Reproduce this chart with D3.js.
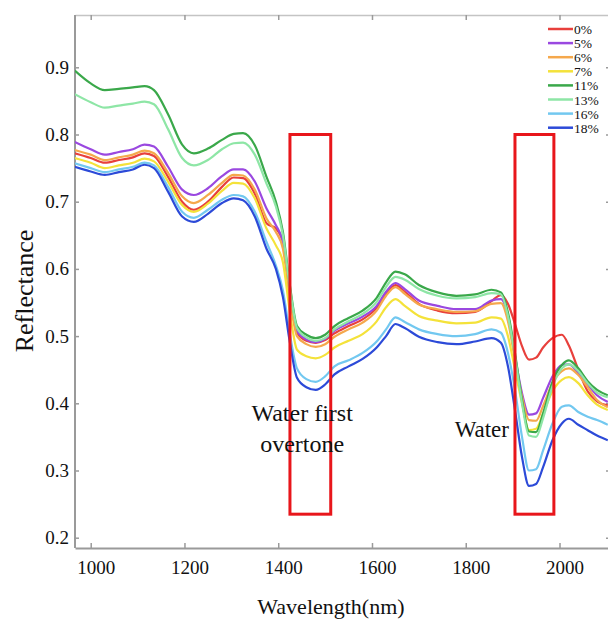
<!DOCTYPE html>
<html lang="en">
<head>
<meta charset="UTF-8">
<title>Reflectance spectra</title>
<style>
  * { margin: 0; padding: 0; }
  body { background: #fff; }
  #chart { width: 608px; height: 622px; overflow: hidden; }
  svg text { font-family: 'Liberation Serif', 'Times New Roman', serif !important; fill: #111; }
</style>
</head>
<body>
<div id="chart"></div>
<script src="https://cdn.jsdelivr.net/npm/d3@7/dist/d3.min.js"></script>
<script>
  // wavelength grid (nm)
  const wavelengths = [966, 1000, 1030, 1060, 1090, 1115, 1135, 1165, 1195, 1220, 1250, 1280, 1305, 1325, 1350, 1375, 1395, 1410, 1425, 1440,
    1460, 1480, 1500, 1520, 1550, 1580, 1610, 1630, 1650, 1670, 1700, 1740, 1780, 1820, 1855, 1875, 1890, 1905, 1920, 1935,
    1950, 1965, 1985, 2005, 2020, 2040, 2060, 2080, 2103]

  // reflectance per moisture level
  const m0 = [0.772, 0.765, 0.758, 0.762, 0.766, 0.772, 0.768, 0.737, 0.700, 0.688, 0.700, 0.722, 0.736, 0.735, 0.712, 0.668, 0.660, 0.640, 0.560, 0.505,
    0.493, 0.490, 0.494, 0.504, 0.515, 0.525, 0.542, 0.563, 0.576, 0.566, 0.548, 0.538, 0.534, 0.536, 0.552, 0.561, 0.548, 0.518, 0.485, 0.465,
    0.468, 0.483, 0.497, 0.502, 0.486, 0.450, 0.418, 0.403, 0.397]
  const m5 = [0.789, 0.778, 0.770, 0.774, 0.778, 0.785, 0.782, 0.752, 0.718, 0.710, 0.720, 0.738, 0.748, 0.748, 0.730, 0.690, 0.665, 0.640, 0.565, 0.508,
    0.495, 0.491, 0.496, 0.508, 0.519, 0.529, 0.545, 0.566, 0.579, 0.570, 0.553, 0.545, 0.540, 0.540, 0.553, 0.555, 0.530, 0.470, 0.415, 0.383,
    0.385, 0.408, 0.440, 0.457, 0.458, 0.445, 0.428, 0.412, 0.402]
  const m6 = [0.777, 0.770, 0.762, 0.766, 0.770, 0.776, 0.772, 0.743, 0.708, 0.698, 0.710, 0.728, 0.740, 0.739, 0.718, 0.675, 0.655, 0.630, 0.555, 0.500,
    0.488, 0.484, 0.488, 0.499, 0.510, 0.520, 0.538, 0.560, 0.573, 0.563, 0.547, 0.540, 0.536, 0.537, 0.548, 0.549, 0.522, 0.465, 0.410, 0.375,
    0.374, 0.396, 0.430, 0.448, 0.452, 0.442, 0.424, 0.405, 0.394]
  const m7 = [0.765, 0.758, 0.750, 0.754, 0.758, 0.764, 0.760, 0.730, 0.695, 0.685, 0.697, 0.716, 0.728, 0.727, 0.705, 0.660, 0.635, 0.610, 0.535, 0.480,
    0.470, 0.467, 0.472, 0.483, 0.493, 0.503, 0.522, 0.543, 0.555, 0.545, 0.530, 0.523, 0.519, 0.520, 0.528, 0.526, 0.500, 0.450, 0.400, 0.360,
    0.362, 0.385, 0.418, 0.435, 0.439, 0.430, 0.412, 0.398, 0.390]
  const m11 = [0.895, 0.876, 0.866, 0.868, 0.870, 0.872, 0.866, 0.830, 0.785, 0.772, 0.779, 0.792, 0.801, 0.802, 0.784, 0.737, 0.700, 0.655, 0.575, 0.515,
    0.502, 0.497, 0.502, 0.515, 0.527, 0.538, 0.557, 0.580, 0.596, 0.592, 0.576, 0.565, 0.560, 0.562, 0.569, 0.565, 0.535, 0.475, 0.405, 0.358,
    0.357, 0.385, 0.432, 0.457, 0.464, 0.452, 0.433, 0.420, 0.412]
  const m13 = [0.860, 0.848, 0.840, 0.843, 0.846, 0.849, 0.845, 0.808, 0.765, 0.754, 0.762, 0.778, 0.787, 0.788, 0.770, 0.727, 0.693, 0.650, 0.572, 0.512,
    0.498, 0.493, 0.497, 0.510, 0.522, 0.533, 0.551, 0.573, 0.588, 0.584, 0.570, 0.560, 0.556, 0.558, 0.564, 0.562, 0.530, 0.470, 0.400, 0.352,
    0.350, 0.378, 0.425, 0.452, 0.458, 0.448, 0.430, 0.416, 0.409]
  const m16 = [0.757, 0.750, 0.744, 0.748, 0.752, 0.758, 0.754, 0.722, 0.685, 0.676, 0.688, 0.703, 0.710, 0.708, 0.685, 0.640, 0.605, 0.568, 0.502, 0.452,
    0.436, 0.432, 0.440, 0.455, 0.464, 0.475, 0.492, 0.510, 0.528, 0.521, 0.510, 0.503, 0.500, 0.503, 0.510, 0.505, 0.475, 0.420, 0.350, 0.300,
    0.302, 0.330, 0.370, 0.395, 0.397, 0.387, 0.380, 0.375, 0.368]
  const m18 = [0.752, 0.745, 0.740, 0.744, 0.748, 0.755, 0.750, 0.715, 0.678, 0.670, 0.682, 0.698, 0.705, 0.702, 0.678, 0.630, 0.600, 0.558, 0.490, 0.438,
    0.424, 0.420, 0.428, 0.443, 0.455, 0.466, 0.483, 0.500, 0.518, 0.512, 0.499, 0.491, 0.488, 0.492, 0.497, 0.490, 0.455, 0.390, 0.320, 0.277,
    0.280, 0.305, 0.345, 0.370, 0.377, 0.368, 0.360, 0.352, 0.345]

  const seriesNames = ['0%', '5%', '6%', '7%', '11%', '13%', '16%', '18%']
  const seriesValues = [m0, m5, m6, m7, m11, m13, m16, m18]
  const seriesColors = ['#e8403c', '#9a48e0', '#f5a84c', '#f4e23a', '#3aa84a', '#8ee6a6', '#72c8f0', '#2c4ad8']

  const xTicks = [1000, 1200, 1400, 1600, 1800, 2000]
  const yTicks = [0.2, 0.3, 0.4, 0.5, 0.6, 0.7, 0.8, 0.9]

  // water absorption boxes (nm) and their reflectance span
  const boxBands = [[1425, 1512], [1905, 1988]]
  const boxSpan = [0.235, 0.8]

  const W = 608, H = 622
  const frame = {left: 75, right: 610, top: 15, bottom: 548}
  const serif = "'Liberation Serif', 'Times New Roman', serif"

  const svg = d3.select('#chart')
    .append('svg')
    .attr('width', W)
    .attr('height', H)

  svg.append('rect').attr('width', W).attr('height', H).attr('fill', '#fff')

  const x = d3.scaleLinear().domain([966.5, 2107.7]).range([frame.left, frame.right])
  const y = d3.scaleLinear().domain([0.2, 0.9]).range([537.7, 67.3])

  svg.append('defs').append('clipPath').attr('id', 'plot')
    .append('rect')
    .attr('x', frame.left).attr('y', frame.top)
    .attr('width', frame.right - frame.left).attr('height', frame.bottom - frame.top)

  // frame + ticks
  const axisColor = '#9a9a9a'
  function styleAxis (g) {
    g.attr('font-family', serif)
    g.select('.domain').attr('stroke', axisColor).attr('stroke-width', 2)
    g.selectAll('.tick line').attr('stroke', axisColor).attr('stroke-width', 1.5)
    g.selectAll('.tick text').style('font-family', serif).attr('font-size', 19).attr('fill', '#111')
  }

  svg.append('g')
    .attr('transform', 'translate(0,' + frame.bottom + ')')
    .call(d3.axisBottom(x).tickValues(xTicks).tickFormat(d3.format('d')).tickSizeInner(-5).tickSizeOuter(0).tickPadding(13))
    .call(styleAxis)
    .call(g => g.selectAll('.tick text').attr('dx', 5))

  svg.append('g')
    .attr('transform', 'translate(0,' + frame.top + ')')
    .call(d3.axisTop(x).tickValues(xTicks).tickSizeInner(-5).tickSizeOuter(0).tickFormat(''))
    .call(styleAxis)
    .call(g => g.select('.domain').attr('stroke', '#c4c4c4').attr('stroke-width', 1.5))

  svg.append('g')
    .attr('transform', 'translate(' + frame.left + ',0)')
    .call(d3.axisLeft(y).tickValues(yTicks).tickSizeInner(-4).tickSizeOuter(0).tickPadding(6).tickFormat(d3.format('.1f')))
    .call(styleAxis)
    .call(g => g.select('.domain').attr('d', 'M0,' + frame.top + 'V' + frame.bottom))

  svg.append('g')
    .attr('transform', 'translate(' + frame.right + ',0)')
    .call(d3.axisRight(y).tickValues(yTicks).tickSizeInner(-4).tickSizeOuter(0).tickFormat(''))
    .call(styleAxis)

  // spectra
  const line = d3.line()
    .x((d, i) => x(wavelengths[i]))
    .y(d => y(d))
    .curve(d3.curveMonotoneX)

  svg.append('g')
    .attr('clip-path', 'url(#plot)')
    .selectAll('path')
    .data(seriesValues)
    .join('path')
    .attr('fill', 'none')
    .attr('stroke', (d, i) => seriesColors[i])
    .attr('stroke-width', 2.2)
    .attr('stroke-linejoin', 'round')
    .attr('d', line)

  // red boxes
  svg.append('g')
    .selectAll('rect')
    .data(boxBands)
    .join('rect')
    .attr('x', d => x(d[0]))
    .attr('y', y(boxSpan[1]))
    .attr('width', d => x(d[1]) - x(d[0]))
    .attr('height', y(boxSpan[0]) - y(boxSpan[1]))
    .attr('fill', 'none')
    .attr('stroke', '#e8161b')
    .attr('stroke-width', 3)

  // annotations
  const note = svg.append('g').attr('font-size', 24)
  note.append('text').attr('x', x(1451)).attr('y', 421).attr('text-anchor', 'middle').text('Water first')
  note.append('text').attr('x', x(1451)).attr('y', 452).attr('text-anchor', 'middle').text('overtone')
  note.append('text').attr('x', 509).attr('y', 437).attr('font-size', 23).attr('text-anchor', 'end').text('Water')

  // legend
  const legend = svg.append('g').attr('transform', 'translate(548,29)')
  const row = legend.selectAll('g')
    .data(seriesNames)
    .join('g')
    .attr('transform', (d, i) => 'translate(0,' + i * 14.1 + ')')
  row.append('line')
    .attr('x1', 0).attr('x2', 25)
    .attr('stroke', (d, i) => seriesColors[i])
    .attr('stroke-width', 2.5)
  row.append('text')
    .attr('x', 26).attr('y', 5)
    .attr('font-size', 13.5)
    .text(d => d)

  // axis titles
  svg.append('text')
    .attr('x', 331).attr('y', 614)
    .attr('text-anchor', 'middle')
    .attr('font-size', 22)
    .text('Wavelength(nm)')
  svg.append('text')
    .attr('transform', 'translate(33,291) rotate(-90)')
    .attr('text-anchor', 'middle')
    .attr('font-size', 26)
    .text('Reflectance')
</script>
</body>
</html>
